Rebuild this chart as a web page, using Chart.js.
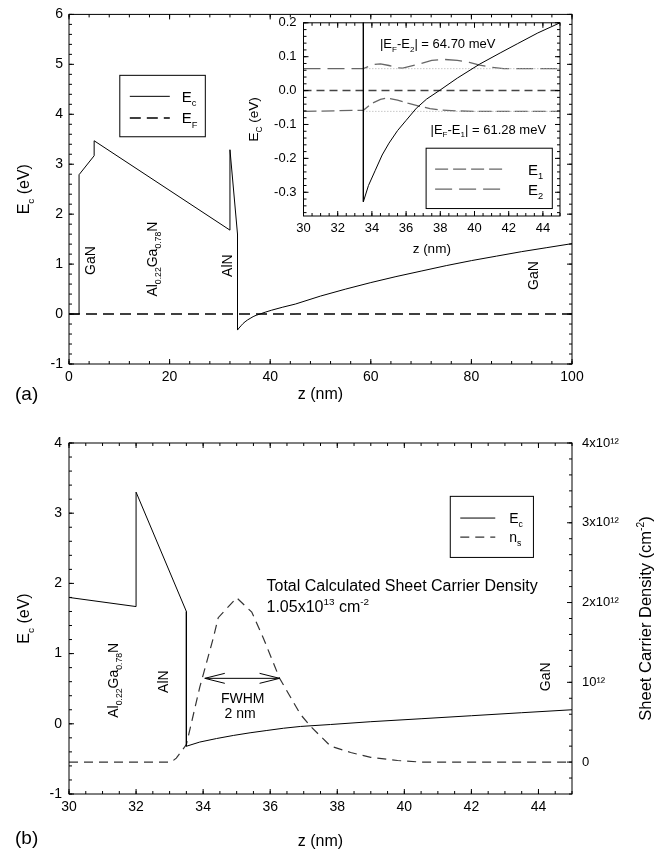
<!DOCTYPE html>
<html>
<head>
<meta charset="utf-8">
<script src="https://cdn.jsdelivr.net/npm/chart.js@4.4.0/dist/chart.umd.min.js"></script>
<style>
html, body { margin: 0; padding: 0; background: #fff; }
#wrap { position: relative; width: 661px; height: 852px; }
canvas { position: absolute; }
</style>
</head>
<body>
<div id="wrap">
  <canvas id="chartA" width="661" height="420" style="left:0;top:0"></canvas>
  <canvas id="chartInset" width="335" height="252" style="left:235px;top:8px"></canvas>
  <canvas id="chartB" width="661" height="432" style="left:0;top:420px"></canvas>
</div>
<script>
// ---- panel (a): conduction band over the whole structure ----
const zA  = [0, 2, 2, 5, 5, 32, 32, 33.5, 33.5, 33.8, 34.2, 34.6, 35, 35.5, 36, 36.6, 37.2, 38, 39, 40.3, 42.5, 45, 50, 55, 60, 65, 70, 75, 80, 85, 90, 95, 100];
const ecA = [0, 0, 2.79, 3.17, 3.47, 1.68, 3.29, 1.6, -0.32, -0.28, -0.235, -0.19, -0.155, -0.118, -0.088, -0.052, -0.025, 0.002, 0.037, 0.078, 0.138, 0.2, 0.36, 0.5, 0.63, 0.75, 0.86, 0.97, 1.07, 1.16, 1.25, 1.33, 1.41];
const zFermiA = [0, 100];
const efA = [0, 0];
const xTicksA = [0, 20, 40, 60, 80, 100];
const yTicksA = [-1, 0, 1, 2, 3, 4, 5, 6];

// ---- inset: zoom near the AlN/GaN interface with the subbands ----
const zIn  = [33.5, 33.5, 33.8, 34.2, 34.6, 35, 35.5, 36, 36.6, 37.2, 38, 39, 40.3, 41.5, 42.5, 43.7, 45];
const ecIn = [1.6, -0.328, -0.28, -0.235, -0.19, -0.155, -0.118, -0.088, -0.052, -0.025, 0.002, 0.037, 0.078, 0.111, 0.138, 0.17, 0.2];
const zFermiIn = [30, 45];
const efIn = [0, 0];
const zLevel = [33.5, 45];
const e1Level = [-0.0613, -0.0613];
const e2Level = [0.0647, 0.0647];
const zE1 = [30, 33.5, 34.0, 34.5, 34.9, 35.5, 36.1, 36.7, 37.4, 38.0, 39.0, 40.0, 45];
const e1  = [-0.0613, -0.058, -0.038, -0.026, -0.022, -0.028, -0.037, -0.045, -0.053, -0.057, -0.060, -0.0613, -0.0613];
const zE2 = [30, 33.5, 34.1, 34.5, 35.0, 35.5, 35.8, 36.8, 37.5, 38.2, 39.0, 39.7, 40.3, 41.0, 41.7, 45];
const e2  = [0.0647, 0.0647, 0.077, 0.079, 0.074, 0.067, 0.066, 0.079, 0.089, 0.092, 0.089, 0.083, 0.075, 0.069, 0.065, 0.0647];
const xTicksIn = [30, 32, 34, 36, 38, 40, 42, 44];
const yTicksIn = [-0.3, -0.2, -0.1, 0, 0.1, 0.2];
const yLabelsIn = ['-0.3', '-0.2', '-0.1', '0.0', '0.1', '0.2'];

// ---- panel (b): band edge and sheet carrier density ----
const zB  = [30, 32, 32, 33.5, 33.5, 33.9, 34.4, 34.9, 35.4, 35.9, 36.4, 36.9, 37.8, 39, 40.5, 42, 43.5, 45];
const ecB = [1.8, 1.67, 3.3, 1.6, -0.32, -0.26, -0.21, -0.166, -0.128, -0.095, -0.063, -0.038, -0.01, 0.03, 0.072, 0.115, 0.158, 0.2];
// n_s in units of 10^12 cm^-2
const zNs = [30, 33.05, 33.2, 33.5, 33.9, 34.3, 34.45, 35.0, 35.45, 35.8, 36.28, 36.9, 37.2, 37.8, 38.4, 39.0, 39.8, 40.5, 45];
const nsB = [0, 0, 0.05, 0.22, 0.94, 1.55, 1.81, 2.06, 1.88, 1.55, 1.05, 0.6, 0.45, 0.2, 0.12, 0.06, 0.02, 0, 0];
const xTicksB = [30, 32, 34, 36, 38, 40, 42, 44];
const yTicksB = [-1, 0, 1, 2, 3, 4];
const nsTicksB = [0, 1, 2, 3, 4];
const nsLabelsB = ['0', '10¹²', '2x10¹²', '3x10¹²', '4x10¹²'];
const fwhmB = [34.05, 36.28];
const fwhmLevel = 1.05;

const FONT = '"Liberation Sans", Arial, Helvetica, sans-serif';

function pts(xs, ys) {
    return xs.map((x, i) => ({ x: x, y: ys[i] }));
}

function steps(a, b, s) {
    const out = [];
    for (let v = a; v <= b + 1e-9; v += s) out.push(Math.round(v * 1000) / 1000);
    return out;
}

// text with sub/superscripts: parts = [[text, 'sub'|'sup'|undefined], ...]
function richWidth(ctx, parts, size) {
    let w = 0;
    for (const p of parts) {
        ctx.font = (p[1] ? size * 0.62 : size) + 'px ' + FONT;
        w += ctx.measureText(p[0]).width;
    }
    return w;
}

function drawRich(ctx, parts, x, y, size, align) {
    const w = richWidth(ctx, parts, size);
    let cx = align === 'center' ? x - w / 2 : (align === 'right' ? x - w : x);
    const base = y + size * 0.36;
    ctx.fillStyle = '#000';
    ctx.textAlign = 'left';
    ctx.textBaseline = 'alphabetic';
    for (const p of parts) {
        const s = p[1] ? size * 0.62 : size;
        ctx.font = s + 'px ' + FONT;
        const dy = p[1] === 'sub' ? size * 0.3 : (p[1] === 'sup' ? -size * 0.42 : 0);
        ctx.fillText(p[0], cx, base + dy);
        cx += ctx.measureText(p[0]).width;
    }
}

function axis(o) {
    const a = {
        type: 'linear',
        position: o.position,
        min: o.min,
        max: o.max,
        afterBuildTicks: s => { s.ticks = o.ticks.map(v => ({ value: v })); },
        afterFit: s => {
            if (o.width !== undefined) s.width = o.width;
            if (o.height !== undefined) s.height = o.height;
        },
        grid: { display: false, drawTicks: false },
        border: { display: false },
        ticks: {
            color: '#000',
            padding: o.pad,
            autoSkip: false,
            maxRotation: 0,
            font: { family: FONT, size: o.size }
        }
    };
    if (o.labels) a.ticks.callback = (v, i) => o.labels[i];
    return a;
}

// frame, inward ticks, annotations and a boxed legend
function decor(cfg) {
    return {
        id: 'decor',
        afterDraw(chart) {
            const ctx = chart.ctx, a = chart.chartArea;
            const xs = chart.scales.x;
            ctx.save();
            ctx.strokeStyle = '#000';
            ctx.lineWidth = 1;
            ctx.setLineDash([]);
            ctx.strokeRect(a.left, a.top, a.right - a.left, a.bottom - a.top);
            ctx.beginPath();
            [[cfg.xMajor, 5], [cfg.xMinor, 3]].forEach(([vals, len]) => {
                vals.forEach(v => {
                    const p = xs.getPixelForValue(v);
                    ctx.moveTo(p, a.bottom); ctx.lineTo(p, a.bottom - len);
                    ctx.moveTo(p, a.top); ctx.lineTo(p, a.top + len);
                });
            });
            const ly = chart.scales.y, ry = chart.scales[cfg.rightScale];
            [[cfg.yMajor, 5], [cfg.yMinor, 3]].forEach(([vals, len]) => {
                vals.forEach(v => {
                    const p = ly.getPixelForValue(v);
                    ctx.moveTo(a.left, p); ctx.lineTo(a.left + len, p);
                });
            });
            [[cfg.rMajor, 5], [cfg.rMinor, 3]].forEach(([vals, len]) => {
                vals.forEach(v => {
                    const p = ry.getPixelForValue(v);
                    ctx.moveTo(a.right, p); ctx.lineTo(a.right - len, p);
                });
            });
            ctx.stroke();

            // legend box
            const L = cfg.legend;
            const bx1 = xs.getPixelForValue(L.box[0]), by1 = ly.getPixelForValue(L.box[1]);
            const bx2 = xs.getPixelForValue(L.box[2]), by2 = ly.getPixelForValue(L.box[3]);
            ctx.fillStyle = '#fff';
            ctx.fillRect(bx1, by1, bx2 - bx1, by2 - by1);
            ctx.strokeRect(bx1, by1, bx2 - bx1, by2 - by1);
            L.items.forEach((it, k) => {
                const ds = chart.data.datasets[it.ds];
                const yy = by1 + L.rows[k];
                ctx.beginPath();
                ctx.strokeStyle = ds.borderColor;
                ctx.lineWidth = ds.borderWidth;
                ctx.setLineDash(ds.borderDash || []);
                ctx.moveTo(bx1 + L.line[0], yy);
                ctx.lineTo(bx1 + L.line[1], yy);
                ctx.stroke();
                ctx.setLineDash([]);
                drawRich(ctx, it.parts, bx1 + L.label, yy, L.size, 'left');
            });

            // arrow (panel b)
            if (cfg.arrow) {
                const yScale = chart.scales[cfg.arrow.scale];
                const x1 = xs.getPixelForValue(cfg.arrow.from), x2 = xs.getPixelForValue(cfg.arrow.to);
                const yy = yScale.getPixelForValue(cfg.arrow.at);
                ctx.beginPath();
                ctx.strokeStyle = '#000';
                ctx.lineWidth = 1;
                ctx.moveTo(x1, yy); ctx.lineTo(x2, yy);
                ctx.moveTo(x1 + 20, yy - 5); ctx.lineTo(x1, yy); ctx.lineTo(x1 + 20, yy + 5);
                ctx.moveTo(x2 - 20, yy - 5); ctx.lineTo(x2, yy); ctx.lineTo(x2 - 20, yy + 5);
                ctx.stroke();
            }

            // text annotations in data coordinates
            cfg.texts.forEach(t => {
                const px = xs.getPixelForValue(t.z), py = ly.getPixelForValue(t.e);
                if (t.rot) {
                    ctx.save();
                    ctx.translate(px, py);
                    ctx.rotate(-Math.PI / 2);
                    drawRich(ctx, t.parts, 0, 0, t.size, 'center');
                    ctx.restore();
                } else {
                    drawRich(ctx, t.parts, px, py, t.size, t.align || 'left');
                }
            });

            // axis titles placed relative to the chart area
            cfg.titles.forEach(t => {
                const [px, py] = t.at(a);
                if (t.rot) {
                    ctx.save();
                    ctx.translate(px, py);
                    ctx.rotate(-Math.PI / 2);
                    drawRich(ctx, t.parts, 0, 0, t.size, 'center');
                    ctx.restore();
                } else {
                    drawRich(ctx, t.parts, px, py, t.size, t.align || 'center');
                }
            });
            ctx.restore();
        }
    };
}

function lineSet(label, data, color, width, dash, axisId) {
    const d = {
        label: label,
        data: data,
        borderColor: color,
        backgroundColor: color,
        borderWidth: width,
        borderDash: dash,
        pointRadius: 0,
        tension: 0,
        fill: false
    };
    if (axisId) d.yAxisID = axisId;
    return d;
}

const baseOptions = {
    responsive: false,
    animation: false,
    events: [],
    plugins: { legend: { display: false }, tooltip: { enabled: false } }
};

// ---------- chart (a) ----------
new Chart(document.getElementById('chartA'), {
    type: 'line',
    data: {
        datasets: [
            lineSet('Ec', pts(zA, ecA), '#000', 1, []),
            lineSet('EF', pts(zFermiA, efA), '#000', 1.6, [11, 6])
        ]
    },
    options: Object.assign({}, baseOptions, {
        layout: { padding: { top: 13, right: 89, left: 0, bottom: 0 } },
        scales: {
            x: axis({ position: 'bottom', min: 0, max: 100, ticks: xTicksA, height: 56, pad: 5, size: 14 }),
            y: axis({ position: 'left', min: -1, max: 6, ticks: yTicksA, width: 69, pad: 6, size: 14 })
        }
    }),
    plugins: [decor({
        xMajor: xTicksA, xMinor: steps(0, 100, 4),
        yMajor: yTicksA, yMinor: steps(-1, 6, 0.2),
        rightScale: 'y', rMajor: yTicksA, rMinor: steps(-1, 6, 0.2),
        legend: {
            box: [10.1, 4.78, 27.1, 3.55], rows: [21, 42.7], line: [10, 50], label: 62, size: 15,
            items: [
                { ds: 0, parts: [['E'], ['c', 'sub']] },
                { ds: 1, parts: [['E'], ['F', 'sub']] }
            ]
        },
        texts: [
            { parts: [['GaN']], z: 4.25, e: 1.07, rot: true, size: 14 },
            { parts: [['Al'], ['0.22', 'sub'], ['Ga'], ['0.78', 'sub'], ['N']], z: 16.4, e: 1.1, rot: true, size: 14 },
            { parts: [['AlN']], z: 31.5, e: 0.97, rot: true, size: 14 },
            { parts: [['GaN']], z: 92.2, e: 0.77, rot: true, size: 14 }
        ],
        titles: [
            { parts: [['E'], ['c', 'sub'], [' (eV)']], at: a => [23, (a.top + a.bottom) / 2], rot: true, size: 16 },
            { parts: [['z (nm)']], at: a => [(a.left + a.right) / 2, 393], size: 16 },
            { parts: [['(a)']], at: a => [15, 393], size: 19, align: 'left' }
        ]
    })]
});

// ---------- inset ----------
new Chart(document.getElementById('chartInset'), {
    type: 'line',
    data: {
        datasets: [
            lineSet('Ec', pts(zIn, ecIn), '#000', 1, []),
            lineSet('EF', pts(zFermiIn, efIn), '#444', 1.5, [8, 5]),
            lineSet('E1 level', pts(zLevel, e1Level), '#aaa', 1, [1, 2]),
            lineSet('E2 level', pts(zLevel, e2Level), '#aaa', 1, [1, 2]),
            lineSet('E1', pts(zE1, e1), '#666', 1.3, [13, 5]),
            lineSet('E2', pts(zE2, e2), '#666', 1.3, [17, 7])
        ]
    },
    options: Object.assign({}, baseOptions, {
        layout: { padding: { top: 13, right: 10, left: 0, bottom: 0 } },
        scales: {
            x: axis({ position: 'bottom', min: 30, max: 45, ticks: xTicksIn, height: 44, pad: 5, size: 13 }),
            y: axis({ position: 'left', min: -0.37, max: 0.2, ticks: yTicksIn, labels: yLabelsIn, width: 68.5, pad: 7, size: 13 })
        }
    }),
    plugins: [decor({
        xMajor: xTicksIn, xMinor: steps(30, 45, 0.5),
        yMajor: yTicksIn, yMinor: steps(-0.36, 0.2, 0.02),
        rightScale: 'y', rMajor: yTicksIn, rMinor: steps(-0.36, 0.2, 0.02),
        legend: {
            box: [37.17, -0.17, 44.55, -0.348], rows: [21, 41], line: [9, 79], label: 102, size: 15,
            items: [
                { ds: 4, parts: [['E'], ['1', 'sub']] },
                { ds: 5, parts: [['E'], ['2', 'sub']] }
            ]
        },
        texts: [
            { parts: [['|E'], ['F', 'sub'], ['-E'], ['2', 'sub'], ['| = 64.70 meV']], z: 34.47, e: 0.14, size: 13 },
            { parts: [['|E'], ['F', 'sub'], ['-E'], ['1', 'sub'], ['| = 61.28 meV']], z: 37.43, e: -0.113, size: 13 }
        ],
        titles: [
            { parts: [['E'], ['C', 'sub'], [' (eV)']], at: a => [a.left - 50, (a.top + a.bottom) / 2], rot: true, size: 13.5 },
            { parts: [['z (nm)']], at: a => [(a.left + a.right) / 2, 240], size: 13.5 }
        ]
    })]
});

// ---------- chart (b) ----------
new Chart(document.getElementById('chartB'), {
    type: 'line',
    data: {
        datasets: [
            lineSet('Ec', pts(zB, ecB), '#000', 1, [], 'y'),
            lineSet('ns', pts(zNs, nsB), '#333', 1.2, [9, 6], 'y1')
        ]
    },
    options: Object.assign({}, baseOptions, {
        layout: { padding: { top: 23, right: 0, left: 0, bottom: 0 } },
        scales: {
            x: axis({ position: 'bottom', min: 30, max: 45, ticks: xTicksB, height: 58, pad: 5, size: 14 }),
            y: axis({ position: 'left', min: -1, max: 4, ticks: yTicksB, width: 69, pad: 7, size: 14 }),
            y1: axis({ position: 'right', min: -0.4, max: 4, ticks: nsTicksB, labels: nsLabelsB, width: 89, pad: 10, size: 13 })
        }
    }),
    plugins: [decor({
        xMajor: xTicksB, xMinor: steps(30, 45, 0.5),
        yMajor: yTicksB, yMinor: steps(-1, 4, 0.2),
        rightScale: 'y1', rMajor: nsTicksB, rMinor: steps(-0.4, 4, 0.2),
        legend: {
            box: [41.37, 3.24, 43.85, 2.37], rows: [21.7, 40.7], line: [10, 45], label: 59, size: 14,
            items: [
                { ds: 0, parts: [['E'], ['c', 'sub']] },
                { ds: 1, parts: [['n'], ['s', 'sub']] }
            ]
        },
        arrow: { from: fwhmB[0], to: fwhmB[1], at: fwhmLevel, scale: 'y1' },
        texts: [
            { parts: [['Al'], ['0.22', 'sub'], ['Ga'], ['0.78', 'sub'], ['N']], z: 31.3, e: 0.62, rot: true, size: 14 },
            { parts: [['AlN']], z: 32.8, e: 0.6, rot: true, size: 14 },
            { parts: [['GaN']], z: 44.18, e: 0.67, rot: true, size: 14 },
            { parts: [['Total Calculated Sheet Carrier Density']], z: 35.89, e: 1.97, size: 16 },
            { parts: [['1.05x10'], ['13', 'sup'], [' cm'], ['-2', 'sup']], z: 35.89, e: 1.68, size: 16 },
            { parts: [['FWHM']], z: 35.18, e: 0.374, size: 14, align: 'center' },
            { parts: [['2 nm']], z: 35.1, e: 0.16, size: 14, align: 'center' }
        ],
        titles: [
            { parts: [['E'], ['c', 'sub'], [' (eV)']], at: a => [23, (a.top + a.bottom) / 2], rot: true, size: 16 },
            { parts: [['z (nm)']], at: a => [(a.left + a.right) / 2, 420], size: 16 },
            { parts: [['(b)']], at: a => [15, 417], size: 19, align: 'left' },
            { parts: [['Sheet Carrier Density (cm'], ['-2', 'sup'], [')']], at: a => [645, (a.top + a.bottom) / 2], rot: true, size: 16.5 }
        ]
    })]
});
</script>
</body>
</html>
